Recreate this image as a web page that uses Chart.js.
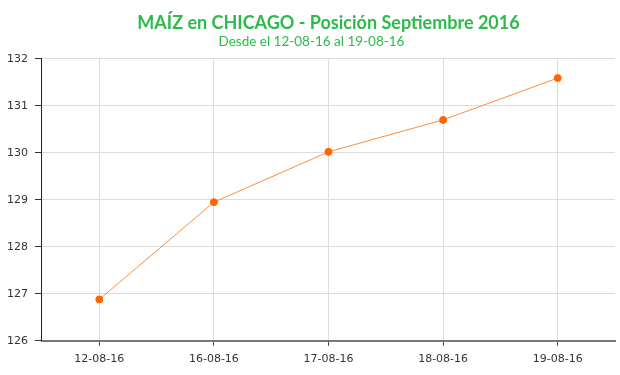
<!DOCTYPE html>
<html>
<head>
<meta charset="utf-8">
<script src="https://cdn.jsdelivr.net/npm/chart.js@4/dist/chart.umd.min.js"></script>
<style>
  html, body { margin: 0; padding: 0; background: #fff; }
  #wrap { width: 620px; height: 375px; }
</style>
</head>
<body>
<div id="wrap"><canvas id="maiz"></canvas></div>
<script>
const fechas = ["12-08-16", "16-08-16", "17-08-16", "18-08-16", "19-08-16"];
const precios = [126.88, 128.95, 130.02, 130.70, 131.59];
const yMin = 126;
const yMax = 132;

const verde = "#2dba4b";

new Chart(document.getElementById("maiz"), {
    type: "line",
    data: {
        labels: fechas,
        datasets: [
            {
                data: precios,
                borderColor: "#ff8c3a",
                borderWidth: 1,
                backgroundColor: "#ff6600",
                pointBackgroundColor: "#ff6600",
                pointBorderColor: "#ff6600",
                pointRadius: 3.5,
                tension: 0,
            },
        ],
    },
    options: {
        responsive: true,
        maintainAspectRatio: false,
        animation: false,
        layout: {
            padding: { left: 0, right: -3, top: 12, bottom: 2 },
        },
        plugins: {
            legend: { display: false },
            tooltip: { enabled: false },
            title: {
                display: true,
                fullSize: false,
                text: "MAÍZ en CHICAGO - Posición Septiembre 2016",
                color: verde,
                font: { family: "Lato", size: 18, weight: "bold" },
                padding: { top: 0, bottom: 0 },
            },
            subtitle: {
                display: true,
                text: "Desde el 12-08-16 al 19-08-16",
                color: verde,
                font: { family: "Lato", size: 13.5 },
                padding: { top: 0, bottom: 9 },
            },
        },
        scales: {
            x: {
                offset: true,
                border: { color: "#777", width: 2 },
                grid: {
                    color: "#dcdcdc",
                    tickColor: "#444",
                    tickLength: 5,
                    offset: false,
                },
                ticks: {
                    color: "#333",
                    font: { family: "DejaVu Sans", size: 11 },
                    padding: 7,
                    maxRotation: 0,
                },
            },
            y: {
                min: yMin,
                max: yMax,
                border: { color: "#222", width: 1 },
                grid: {
                    color: "#dcdcdc",
                    tickColor: "#333",
                    tickLength: 7,
                },
                ticks: {
                    stepSize: 1,
                    color: "#333",
                    font: { family: "DejaVu Sans", size: 11 },
                    padding: 7,
                },
            },
        },
    },
});
</script>
</body>
</html>
